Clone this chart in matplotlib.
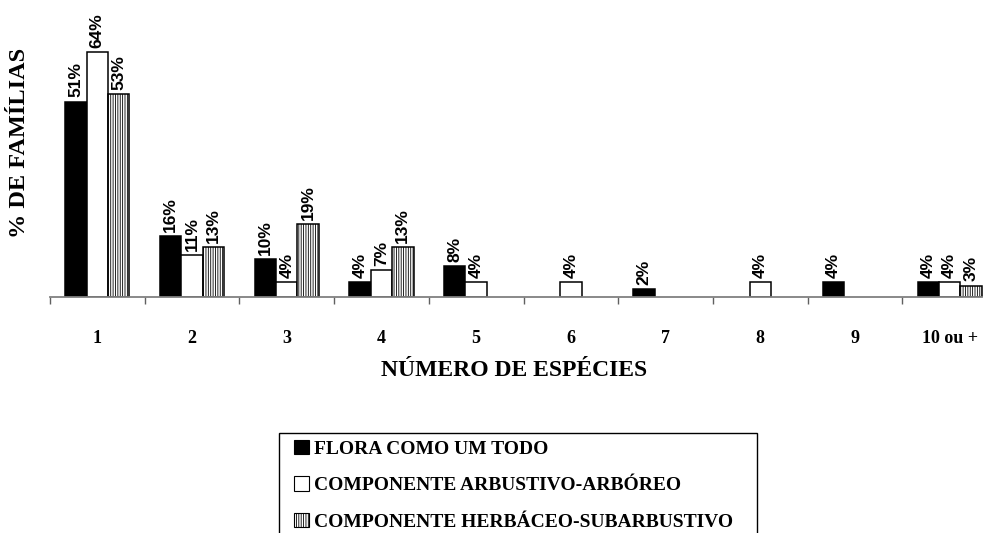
import numpy as np
import matplotlib.pyplot as plt
from matplotlib.patches import Patch, Rectangle

# % de famílias por número de espécies
categorias = ['1', '2', '3', '4', '5', '6', '7', '8', '9', '10 ou +']
flora = [51, 16, 10, 4, 8, 0, 2, 0, 4, 4]
arbustivo = [64, 11, 4, 7, 4, 4, 0, 4, 0, 4]
herbaceo = [53, 13, 19, 13, 0, 0, 0, 0, 0, 3]

nomes = ['FLORA COMO UM TODO',
         'COMPONENTE ARBUSTIVO-ARBÓREO',
         'COMPONENTE HERBÁCEO-SUBARBUSTIVO']

serif = 'Liberation Serif'
sans = 'Liberation Sans'
plt.rcParams['hatch.linewidth'] = 0.6

fig = plt.figure(figsize=(9.9, 5.33), dpi=100)
ax = fig.add_axes([50 / 990, 1 - 297 / 533, 947 / 990, 297 / 533])

x = np.arange(len(categorias))
w = 0.226
estilos = [dict(color='black'),
           dict(color='white'),
           dict(color='white', hatch='|||||||')]

for i, (vals, est) in enumerate(zip([flora, arbustivo, herbaceo], estilos)):
    pos = x + (i - 1) * w
    for p, v in zip(pos, vals):
        if v == 0:
            continue
        ax.bar(p, v, width=w, edgecolor='black', linewidth=1.1, **est)
        ax.annotate(f'{v}%', (p, v), xytext=(0, 3), textcoords='offset points',
                    rotation=90, ha='center', va='bottom',
                    fontsize=12.5, fontweight='heavy', family=sans)

ax.set_xlim(-0.5, 9.5)
ax.set_ylim(0, 77.5)

for s in ['top', 'right', 'left']:
    ax.spines[s].set_visible(False)
ax.spines['bottom'].set_color('#808080')
ax.spines['bottom'].set_linewidth(1.3)
ax.spines['bottom'].set_bounds(-0.5, 9.34)
ax.set_yticks([])

ax.set_xticks(x)
ax.set_xticklabels(categorias, fontsize=13, fontweight='bold', family=serif)
ax.tick_params(axis='x', which='major', length=0, pad=24)
ax.set_xticks(np.arange(-0.5, 9.0, 1.0), minor=True)
ax.tick_params(axis='x', which='minor', length=5, width=1, color='#606060')

fig.text(514 / 990, 1 - 371 / 533, 'NÚMERO DE ESPÉCIES',
         ha='center', va='center', fontsize=17, fontweight='bold', family=serif)
fig.text(20 / 990, 1 - 143 / 533, '% DE FAMÍLIAS', rotation=90,
         ha='center', va='center', fontsize=17.5, fontweight='bold', family=serif)

# caixa da legenda (cortada na parte de baixo)
fig.patches.append(Rectangle((279 / 990, -0.05), 478 / 990, 1 - 433 / 533 + 0.05,
                             transform=fig.transFigure, fill=False,
                             edgecolor='black', linewidth=1.0))

handles = [Patch(facecolor='black', edgecolor='black', linewidth=0.8),
           Patch(facecolor='white', edgecolor='black', linewidth=0.8),
           Patch(facecolor='white', edgecolor='black', linewidth=0.8, hatch='|||||||')]
leg = fig.legend(handles, nomes, loc='upper left',
                 bbox_to_anchor=(294 / 990, 1 - 440 / 533),
                 frameon=False, handlelength=0.75, handleheight=0.75,
                 handletextpad=0.3, labelspacing=0.95, borderpad=0.0,
                 borderaxespad=0,
                 prop=dict(family=serif, weight='bold', size=14))

fig.savefig('out.png', dpi=100)
